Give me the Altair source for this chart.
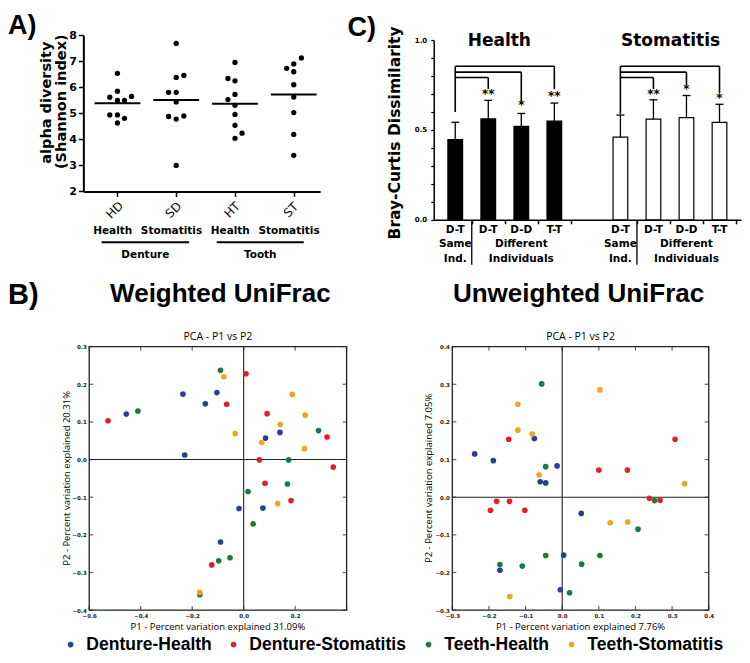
import altair as alt
import pandas as pd

W_TOT, H_TOT = 734, 647
SX, SY = W_TOT / 750.0, H_TOT / 663.0


def X(v):
    return round(v * SX, 2)


def Y(v):
    return round(v * SY, 2)


BF = "DejaVu Sans"
AF = "Liberation Sans, Arial"
PF = "Open Sans"
LF = "Liberation Sans, Arial"

# ---------------- Panel A: alpha diversity ----------------
A_groups = ["HD", "SD", "HT", "ST"]
A_HD = [6.54, 5.85, 5.62, 5.50, 5.50, 5.65, 4.94, 4.94, 4.81, 4.63]
A_HD_jit = [0, 0, -0.13, 0, 0.12, 0.24, -0.13, 0, 0.12, 0]
A_SD = [7.69, 6.46, 6.38, 5.81, 5.81, 5.44, 4.88, 4.90, 4.78, 3.00]
A_SD_jit = [0, 0.13, 0, -0.13, 0, 0, -0.13, 0.13, 0, 0]
A_HT = [6.96, 6.34, 6.25, 5.73, 5.53, 5.31, 4.96, 4.54, 4.24, 4.04]
A_HT_jit = [0, -0.12, 0, 0, -0.12, 0, 0, 0, 0.12, 0]
A_ST = [7.13, 6.90, 6.73, 6.60, 6.10, 5.63, 5.03, 4.19, 3.39]
A_ST_jit = [0.13, 0, -0.12, 0, 0, 0, 0, 0, 0]
A_means = [5.39, 5.51, 5.375, 5.73]
A_sub = ["Health", "Stomatitis", "Health", "Stomatitis"]
A_site = ["Denture", "Tooth"]
A_site_span = [[0.73, 2.22], [2.69, 4.17]]

# ---------------- Panel C: Bray-Curtis ----------------
C_cats = ["D-T", "D-T", "D-D", "T-T"]
C_health = [0.447, 0.562, 0.520, 0.549]
C_health_err = [0.543, 0.665, 0.592, 0.650]
C_stoma = [0.460, 0.560, 0.569, 0.542]
C_stoma_err = [0.583, 0.668, 0.692, 0.643]
C_levels = [0.792, 0.822, 0.855]
C_health_legs = [0.728, 0.656, 0.728]
C_health_stars = ["**", "*", "**"]
C_health_star_y = [0.70, 0.638, 0.69]
C_stoma_legs = [0.728, 0.75, 0.707]
C_stoma_stars = ["**", "*", "*"]
C_stoma_star_y = [0.70, 0.728, 0.678]
C_left_bottom = [0.60, 0.59]

# ---------------- Panel B: PCA ----------------
groups = ["Denture-Health", "Denture-Stomatitis", "Teeth-Health", "Teeth-Stomatitis"]
colors = ["#2a3e97", "#e41f26", "#1a7a3c", "#f5a21e"]

W_DH_x = [-0.456, -0.236, -0.229, -0.149, -0.104, 0.141, 0.085, -0.018, 0.075, -0.090]
W_DH_y = [0.121, 0.174, 0.012, 0.148, 0.178, 0.072, 0.057, -0.130, -0.129, -0.219]
W_DS_x = [-0.527, -0.066, 0.009, 0.091, 0.324, 0.061, 0.348, 0.083, 0.184, -0.124]
W_DS_y = [0.103, 0.147, 0.228, 0.122, 0.060, -0.001, -0.020, -0.063, -0.109, -0.280]
W_TH_x = [-0.411, -0.090, 0.291, 0.175, 0.170, 0.017, 0.037, -0.053, -0.097, -0.170]
W_TH_y = [0.129, 0.237, 0.077, -0.001, -0.065, -0.085, -0.171, -0.261, -0.269, -0.359]
W_TS_x = [-0.077, -0.033, 0.142, 0.070, 0.189, 0.239, 0.236, 0.132, -0.171]
W_TS_y = [0.220, 0.069, 0.093, 0.045, 0.173, 0.118, 0.029, -0.117, -0.353]

U_DH_x = [-0.239, -0.188, -0.076, -0.014, -0.060, -0.045, 0.052, 0.004, -0.170, -0.005]
U_DH_y = [0.115, 0.097, 0.156, 0.083, 0.041, 0.038, -0.043, -0.154, -0.194, -0.246]
U_DS_x = [-0.146, 0.100, 0.178, 0.308, 0.238, 0.267, -0.179, -0.144, -0.196, -0.102]
U_DS_y = [0.154, 0.072, 0.072, 0.154, -0.003, -0.008, -0.011, -0.011, -0.035, -0.035]
U_TH_x = [-0.056, -0.045, 0.252, 0.207, -0.045, 0.053, 0.103, -0.170, -0.109, 0.020]
U_TH_y = [0.301, 0.081, -0.009, -0.085, -0.155, -0.178, -0.155, -0.179, -0.183, -0.254]
U_TS_x = [-0.121, -0.121, -0.082, -0.063, 0.103, 0.334, 0.131, 0.179, -0.143]
U_TS_y = [0.247, 0.178, 0.168, 0.059, 0.285, 0.036, -0.068, -0.066, -0.264]

W_xdom, W_ydom = [-0.6, 0.4], [-0.4, 0.3]
U_xdom, U_ydom = [-0.3, 0.4], [-0.3, 0.4]
W_xticks = [-0.6, -0.4, -0.2, 0.0, 0.2, 0.4]
W_xlabels = [-0.6, -0.4, -0.2, 0.0, 0.2]
W_yticks = [-0.4, -0.3, -0.2, -0.1, 0.0, 0.1, 0.2, 0.3]
U_xticks = [-0.3, -0.2, -0.1, 0.0, 0.1, 0.2, 0.3, 0.4]
U_yticks = [-0.3, -0.2, -0.1, 0.0, 0.1, 0.2, 0.3, 0.4]


def label(text, x, y, size, weight="bold", font=BF, align="center",
          baseline="alphabetic", angle=0, color="black"):
    return alt.Chart(alt.Data(values=[{"k": 1}])).mark_text(
        text=text, fontSize=size, fontWeight=weight, font=font, align=align,
        baseline=baseline, angle=angle, color=color
    ).encode(x=alt.value(X(x)), y=alt.value(Y(y)))


# ================= Panel A =================
rows = []
for i, (vals, jit) in enumerate([(A_HD, A_HD_jit), (A_SD, A_SD_jit),
                                 (A_HT, A_HT_jit), (A_ST, A_ST_jit)]):
    for v, j in zip(vals, jit):
        rows.append({"g": A_groups[i], "x": i + 1 + j, "v": v})
dfA = pd.DataFrame(rows)
dfA_mean = pd.DataFrame({"x": [i + 1 - 0.39 for i in range(4)],
                         "x2": [i + 1 + 0.39 for i in range(4)],
                         "v": A_means})
dfA_sub = pd.DataFrame({"x": [i + 1 - 0.08 for i in range(4)], "t": A_sub})
dfA_site = pd.DataFrame({"x": [s[0] for s in A_site_span],
                         "x2": [s[1] for s in A_site_span],
                         "xc": [(s[0] + s[1]) / 2 for s in A_site_span],
                         "t": A_site})

xA = alt.Scale(domain=[0.42, 4.45], range=[X(77), X(319)], nice=False, zero=False)
yA = alt.Scale(domain=[2, 8], range=[Y(188), Y(28)], nice=False, zero=False)
axA_x = alt.Axis(orient="bottom", offset=Y(188) - H_TOT, values=[1, 2, 3, 4],
                 labels=False, tickSize=5, tickColor="black", tickWidth=1.5,
                 domainColor="black", domainWidth=2, grid=False, title=None)
axA_y = alt.Axis(orient="left", offset=-X(77), values=[2, 3, 4, 5, 6, 7, 8], format="d",
                 labelFont=BF, labelFontSize=11, labelFontWeight="bold", labelColor="black",
                 labelPadding=2, labelOverlap=False, tickSize=5, tickColor="black",
                 tickWidth=1.5, domainColor="black", domainWidth=2, grid=False, title=None)

a_pts = alt.Chart(dfA).mark_circle(size=28, color="black", opacity=1).encode(
    x=alt.X("x:Q", scale=xA, axis=axA_x), y=alt.Y("v:Q", scale=yA, axis=axA_y))
a_mean = alt.Chart(dfA_mean).mark_rule(color="black", strokeWidth=2).encode(
    x=alt.X("x:Q", scale=xA, axis=axA_x), x2="x2:Q",
    y=alt.Y("v:Q", scale=yA, axis=axA_y))
a_sub = alt.Chart(dfA_sub).mark_text(font=BF, fontSize=10.5, fontWeight="bold",
                                     baseline="middle", color="black").encode(
    x=alt.X("x:Q", scale=xA, axis=axA_x), y=alt.value(Y(228)), text="t:N")
a_line = alt.Chart(dfA_site).mark_rule(color="black", strokeWidth=2).encode(
    x=alt.X("x:Q", scale=xA, axis=axA_x), x2="x2:Q", y=alt.value(Y(240)))
a_site = alt.Chart(dfA_site).mark_text(font=BF, fontSize=10.5, fontWeight="bold",
                                       baseline="middle", color="black").encode(
    x=alt.X("xc:Q", scale=xA, axis=axA_x), y=alt.value(Y(253)), text="t:N")
panelA = alt.layer(a_mean, a_pts, a_sub, a_line, a_site)

# rotated group codes under panel A's x axis (one tick every 60 px from x=112)
a_codes = [label(code, 109 + 60 * i, 207, 12, weight="normal", baseline="middle", angle=315)
           for i, code in enumerate(A_groups)]

# ================= Panel C =================
dfC = pd.DataFrame({
    "pos": [0, 1, 2, 3, 5, 6, 7, 8],
    "m": C_health + C_stoma,
    "e": C_health_err + C_stoma_err,
    "grp": ["Health"] * 4 + ["Stomatitis"] * 4,
    "lab": C_cats + C_cats,
})
dfC["c1"] = dfC["pos"] - 0.12
dfC["c2"] = dfC["pos"] + 0.12

hb, vb, sb = [], [], []
for base, legs, stars, sy in [(0, C_health_legs, C_health_stars, C_health_star_y),
                              (5, C_stoma_legs, C_stoma_stars, C_stoma_star_y)]:
    for k in range(3):
        hb.append({"x": base, "x2": base + k + 1, "y": C_levels[k]})
        vb.append({"x": base + k + 1, "y": C_levels[k], "y2": legs[k]})
        sb.append({"x": base + k + 1, "y": sy[k], "t": stars[k]})
for base, bot in zip([0, 5], C_left_bottom):
    vb.append({"x": base, "y": bot, "y2": C_levels[-1]})
dfC_h, dfC_v, dfC_s = pd.DataFrame(hb), pd.DataFrame(vb), pd.DataFrame(sb)
dfC_grp = pd.DataFrame({"x": [0, 2, 5, 7],
                        "t1": ["Same", "Different", "Same", "Different"],
                        "t2": ["Ind.", "Individuals", "Ind.", "Individuals"]})
dfC_sep = pd.DataFrame({"x": [0.5, 5.5]})

xC = alt.Scale(domain=[-0.5, 8.5], range=[X(435), X(749)], nice=False, zero=False)
yC = alt.Scale(domain=[0, 1], range=[Y(217), Y(33)], nice=False, zero=False)
axC_x = alt.Axis(orient="bottom", offset=Y(217) - H_TOT,
                 values=[0.5, 1.5, 2.5, 3.5, 5.5, 6.5, 7.5, 8.5], labels=False,
                 tickSize=4, tickColor="black", tickWidth=1.5,
                 domainColor="black", domainWidth=1.5, grid=False, title=None)
axC_y = alt.Axis(orient="left", offset=-X(435),
                 values=[round(i * 0.1, 1) for i in range(11)],
                 labelExpr="(datum.value==0||datum.value==0.5||datum.value==1)?format(datum.value,'.1f'):''",
                 labelFont=BF, labelFontSize=7, labelFontWeight="bold", labelColor="black",
                 labelPadding=4, tickSize=3, tickColor="black", tickWidth=1.2,
                 domainColor="black", domainWidth=1.5, grid=False, title=None)

cx = alt.X("pos:Q", scale=xC, axis=axC_x)
c_bar_h = alt.Chart(dfC).transform_filter("datum.grp == 'Health'").mark_bar(
    size=X(15), color="black", stroke="black", strokeWidth=1.2).encode(
    x=cx, y=alt.Y("m:Q", scale=yC, axis=axC_y), y2=alt.datum(0))
c_bar_s = alt.Chart(dfC).transform_filter("datum.grp == 'Stomatitis'").mark_bar(
    size=X(15), color="white", stroke="black", strokeWidth=1.2).encode(
    x=cx, y=alt.Y("m:Q", scale=yC, axis=axC_y), y2=alt.datum(0))
c_err = alt.Chart(dfC).mark_rule(color="black", strokeWidth=1.3).encode(
    x=cx, y=alt.Y("m:Q", scale=yC, axis=axC_y), y2="e:Q")
c_cap = alt.Chart(dfC).mark_rule(color="black", strokeWidth=1.3).encode(
    x=alt.X("c1:Q", scale=xC, axis=axC_x), x2="c2:Q", y=alt.Y("e:Q", scale=yC, axis=axC_y))
c_hb = alt.Chart(dfC_h).mark_rule(color="black", strokeWidth=1.6).encode(
    x=alt.X("x:Q", scale=xC, axis=axC_x), x2="x2:Q", y=alt.Y("y:Q", scale=yC, axis=axC_y))
c_vb = alt.Chart(dfC_v).mark_rule(color="black", strokeWidth=1.6).encode(
    x=alt.X("x:Q", scale=xC, axis=axC_x), y=alt.Y("y:Q", scale=yC, axis=axC_y), y2="y2:Q")
c_star = alt.Chart(dfC_s).mark_text(font=BF, fontSize=12, fontWeight="bold",
                                    baseline="middle", color="black").encode(
    x=alt.X("x:Q", scale=xC, axis=axC_x), y=alt.Y("y:Q", scale=yC, axis=axC_y), text="t:N")
c_lab = alt.Chart(dfC).mark_text(font=BF, fontSize=10.5, fontWeight="bold",
                                 baseline="middle", color="black").encode(
    x=cx, y=alt.value(Y(227)), text="lab:N")
c_g1 = alt.Chart(dfC_grp).mark_text(font=BF, fontSize=10.5, fontWeight="bold",
                                    baseline="middle", color="black").encode(
    x=alt.X("x:Q", scale=xC, axis=axC_x), y=alt.value(Y(242)), text="t1:N")
c_g2 = alt.Chart(dfC_grp).mark_text(font=BF, fontSize=10.5, fontWeight="bold",
                                    baseline="middle", color="black").encode(
    x=alt.X("x:Q", scale=xC, axis=axC_x), y=alt.value(Y(257)), text="t2:N")
c_sep = alt.Chart(dfC_sep).mark_rule(color="black", strokeWidth=1.3).encode(
    x=alt.X("x:Q", scale=xC, axis=axC_x), y=alt.value(Y(217)), y2=alt.value(Y(263)))
panelC = alt.layer(c_bar_h, c_bar_s, c_err, c_cap, c_hb, c_vb, c_star,
                   c_lab, c_g1, c_g2, c_sep)

# ================= Panel B (two PCA plots) =================
color_enc = alt.Color("grp:N", scale=alt.Scale(domain=groups, range=colors),
                      legend=alt.Legend(orient="none", legendX=X(55), legendY=Y(643),
                                        direction="horizontal", title=None,
                                        labelFont=LF, labelFontSize=17.5,
                                        labelFontWeight="bold", labelColor="black",
                                        labelLimit=0,
                                        symbolType="circle", symbolSize=32,
                                        symbolStrokeWidth=0, symbolOpacity=1,
                                        columnPadding=13, labelOffset=7))


def pca_points(xs_lists, ys_lists):
    rows = []
    for g, xs, ys in zip(groups, xs_lists, ys_lists):
        for a, b in zip(xs, ys):
            rows.append({"grp": g, "px": a, "py": b})
    return pd.DataFrame(rows)


def pca_panel(dfp, xdom, ydom, xpx, ypx, xticks, yticks, xlabels, ylabels):
    xs = alt.Scale(domain=xdom, range=[X(xpx[0]), X(xpx[1])], nice=False, zero=False)
    ys = alt.Scale(domain=ydom, range=[Y(ypx[1]), Y(ypx[0])], nice=False, zero=False)
    axx = alt.Axis(orient="bottom", offset=Y(ypx[1]) - H_TOT, values=xlabels, format=".1f",
                   labelFont=BF, labelFontSize=5.5, labelFontWeight="bold", labelColor="#222",
                   labelPadding=3, labelFlush=False, ticks=False, domain=False, grid=False,
                   title=None)
    axy = alt.Axis(orient="left", offset=-X(xpx[0]), values=ylabels, format=".1f",
                   labelFont=BF, labelFontSize=5.5, labelFontWeight="bold", labelColor="#222",
                   labelPadding=3, ticks=False, domain=False, grid=False, title=None)
    fx = lambda f: alt.X(f, scale=xs, axis=axx)
    fy = lambda f: alt.Y(f, scale=ys, axis=axy)
    frame = pd.DataFrame({"x": [xdom[0]], "x2": [xdom[1]], "y": [ydom[0]], "y2": [ydom[1]]})
    zx = pd.DataFrame({"x": [0.0], "y": [ydom[0]], "y2": [ydom[1]]})
    zy = pd.DataFrame({"x": [xdom[0]], "x2": [xdom[1]], "y": [0.0]})
    tb = pd.DataFrame({"x": xticks, "y": [ydom[0]] * len(xticks)})
    tt = pd.DataFrame({"x": xticks, "y": [ydom[1]] * len(xticks)})
    tl = pd.DataFrame({"x": [xdom[0]] * len(yticks), "y": yticks})
    tr = pd.DataFrame({"x": [xdom[1]] * len(yticks), "y": yticks})
    lc = "#222"
    layers = [
        alt.Chart(frame).mark_rect(fillOpacity=0, stroke=lc, strokeWidth=1.3).encode(
            x=fx("x:Q"), x2="x2:Q", y=fy("y:Q"), y2="y2:Q"),
        alt.Chart(zx).mark_rule(color=lc, strokeWidth=1.1).encode(
            x=fx("x:Q"), y=fy("y:Q"), y2="y2:Q"),
        alt.Chart(zy).mark_rule(color=lc, strokeWidth=1.1).encode(
            x=fx("x:Q"), x2="x2:Q", y=fy("y:Q")),
        alt.Chart(tb).mark_tick(orient="vertical", size=4, thickness=1.2, color=lc,
                                yOffset=-2).encode(x=fx("x:Q"), y=fy("y:Q")),
        alt.Chart(tt).mark_tick(orient="vertical", size=4, thickness=1.2, color=lc,
                                yOffset=2).encode(x=fx("x:Q"), y=fy("y:Q")),
        alt.Chart(tl).mark_tick(orient="horizontal", size=4, thickness=1.2, color=lc,
                                xOffset=2).encode(x=fx("x:Q"), y=fy("y:Q")),
        alt.Chart(tr).mark_tick(orient="horizontal", size=4, thickness=1.2, color=lc,
                                xOffset=-2).encode(x=fx("x:Q"), y=fy("y:Q")),
        alt.Chart(dfp).mark_circle(size=32, opacity=1).encode(
            x=fx("px:Q"), y=fy("py:Q"), color=color_enc),
    ]
    return alt.layer(*layers)


dfW = pca_points([W_DH_x, W_DS_x, W_TH_x, W_TS_x], [W_DH_y, W_DS_y, W_TH_y, W_TS_y])
dfU = pca_points([U_DH_x, U_DS_x, U_TH_x, U_TS_x], [U_DH_y, U_DS_y, U_TH_y, U_TS_y])
panelW = pca_panel(dfW, W_xdom, W_ydom, (83, 346), (347, 617), W_xticks, W_yticks,
                   W_xlabels, W_yticks)
panelU = pca_panel(dfU, U_xdom, U_ydom, (454, 716), (347, 617), U_xticks, U_yticks,
                   U_xticks, U_yticks)

texts = [
    label("A)", 0, 27, 27, font=AF, align="left"),
    label("C)", 347, 29, 27, font=AF, align="left"),
    label("B)", 0, 303, 29, font=AF, align="left"),
    label("alpha diversity", 40, 97, 14.5, baseline="middle", angle=270),
    label("(Shannon index)", 55, 96, 14.5, baseline="middle", angle=270),
    label("Bray-Curtis Dissimilarity", 395, 128, 15.5, baseline="middle", angle=270),
    label("Health", 502, 39, 17),
    label("Stomatitis", 677, 39, 17),
    label("Weighted UniFrac", 217, 301, 26, font=AF),
    label("Unweighted UniFrac", 583, 301, 26, font=AF),
    label("PCA - P1 vs P2", 214.5, 337, 10.5, weight="normal", font=PF, baseline="middle"),
    label("PCA - P1 vs P2", 585, 337, 10.5, weight="normal", font=PF, baseline="middle"),
    label("P1 - Percent variation explained 31.09%", 214.5, 634, 9.5, weight="normal",
          font=PF, baseline="middle"),
    label("P1 - Percent variation explained 7.76%", 585, 634, 9.5, weight="normal",
          font=PF, baseline="middle"),
    label("P2 - Percent variation explained 20.31%", 60, 482, 9.5, weight="normal",
          font=PF, baseline="middle", angle=270),
    label("P2 - Percent variation explained 7.05%", 430, 482, 9.5, weight="normal",
          font=PF, baseline="middle", angle=270),
] + a_codes

chart = alt.layer(panelA, panelC, panelW, panelU, *texts).resolve_scale(
    x="independent", y="independent"
).properties(
    width=W_TOT, height=H_TOT, autosize=alt.AutoSizeParams(type="none"), padding=0
).configure_view(stroke=None)

chart.save("out.html", embed_options={"renderer": "svg", "actions": False})
